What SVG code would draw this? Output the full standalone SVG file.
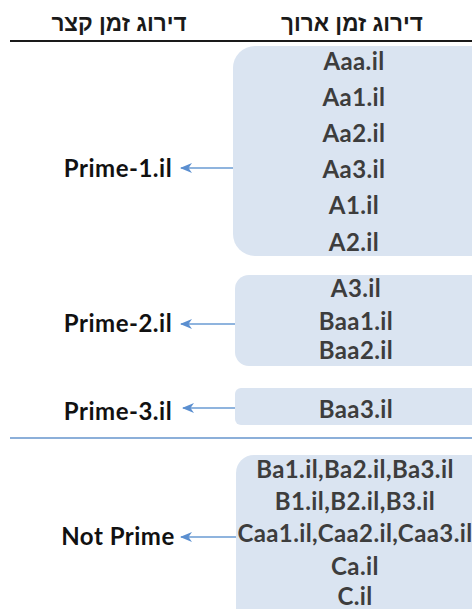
<svg xmlns="http://www.w3.org/2000/svg" width="472" height="609" viewBox="0 0 472 609">
<style>
.hd{font-family:"Liberation Sans","DejaVu Sans",sans-serif;font-weight:bold;font-size:22.5px;fill:#1a1a1a;text-anchor:middle}
.bx{fill:#dae4f1}
.bt{font-family:Lato,"Liberation Sans",sans-serif;font-weight:bold;font-size:24px;letter-spacing:0.4px;fill:#3d3d3d;text-anchor:middle}
.lb{font-family:Lato,"Liberation Sans",sans-serif;font-weight:bold;font-size:24px;letter-spacing:0.5px;fill:#111;text-anchor:middle}
.cn{stroke:#6a9bd3;stroke-width:1.6;fill:none}
</style>
<defs>
<marker id="ah" viewBox="0 0 12 10" refX="11" refY="5" markerWidth="12" markerHeight="10" markerUnits="userSpaceOnUse" orient="auto">
<path d="M12,5 L0,0 L3.5,5 L0,10 Z" fill="#5b8fd0"/>
</marker>
</defs>
<rect width="472" height="609" fill="#fff"/>
<g id="header">
<text class="hd" x="119" y="31" direction="rtl">דירוג זמן קצר</text>
<text class="hd" x="352" y="31" direction="rtl">דירוג זמן ארוך</text>
<line x1="10" y1="41" x2="472" y2="41" stroke="#1a1a1a" stroke-width="2"/>
</g>
<line id="separator" x1="10" y1="438" x2="472" y2="438" stroke="#8cafd9" stroke-width="2"/>
<g id="box1">
<rect class="bx" x="233" y="46" width="260" height="210" rx="22"/>
<text class="bt" x="354" y="70">Aaa.il</text>
<text class="bt" x="354" y="106">Aa1.il</text>
<text class="bt" x="354" y="142">Aa2.il</text>
<text class="bt" x="354" y="178">Aa3.il</text>
<text class="bt" x="354" y="214">A1.il</text>
<text class="bt" x="354" y="251">A2.il</text>
</g>
<g id="box2">
<rect class="bx" x="235" y="275" width="258" height="91" rx="14"/>
<text class="bt" x="356" y="297">A3.il</text>
<text class="bt" x="356" y="330">Baa1.il</text>
<text class="bt" x="356" y="359">Baa2.il</text>
</g>
<g id="box3">
<rect class="bx" x="235" y="388" width="258" height="37" rx="6"/>
<text class="bt" x="356" y="418">Baa3.il</text>
</g>
<g id="box4">
<rect class="bx" x="236" y="455" width="257" height="180" rx="18"/>
<text class="bt" x="355" y="478">Ba1.il,Ba2.il,Ba3.il</text>
<text class="bt" x="355" y="510">B1.il,B2.il,B3.il</text>
<text class="bt" x="355" y="542">Caa1.il,Caa2.il,Caa3.il</text>
<text class="bt" x="355" y="575">Ca.il</text>
<text class="bt" x="355" y="605">C.il</text>
</g>
<g id="prime1"><text class="lb" x="118" y="177">Prime-1.il</text></g>
<g id="prime2"><text class="lb" x="118" y="332">Prime-2.il</text></g>
<g id="prime3"><text class="lb" x="118" y="420">Prime-3.il</text></g>
<g id="notprime"><text class="lb" x="118" y="545">Not Prime</text></g>
<g id="connectors">
<line class="cn" x1="233" y1="168" x2="181" y2="168" marker-end="url(#ah)"/>
<line class="cn" x1="235" y1="324" x2="181" y2="324" marker-end="url(#ah)"/>
<line class="cn" x1="235" y1="408" x2="183" y2="408" marker-end="url(#ah)"/>
<line class="cn" x1="236" y1="537" x2="181" y2="537" marker-end="url(#ah)"/>
</g>
</svg>
